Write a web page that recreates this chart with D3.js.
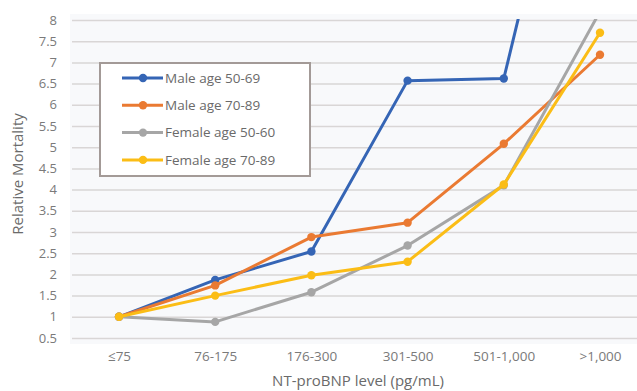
<!DOCTYPE html>
<html><head><meta charset="utf-8">
<script src="https://cdn.jsdelivr.net/npm/d3@7"></script>
<style>html,body{margin:0;padding:0;background:#fff;}svg{display:block;}</style>
</head><body>
<svg id="chart" width="637" height="391"></svg>
<script>
const categories = ["≤75", "76-175", "176-300", "301-500", "501-1,000", ">1,000"];
const seriesNames = ["Male age 50-69", "Male age 70-89", "Female age 50-60", "Female age 70-89"];
const male5069 = [1, 1.87, 2.54, 6.57, 6.62, 16];
const male7089 = [1, 1.74, 2.88, 3.22, 5.08, 7.18];
const female5069 = [1, 0.88, 1.58, 2.68, 4.1, 8.2];
const female7089 = [1, 1.5, 1.98, 2.3, 4.12, 7.7];
const yTicks = [0.5, 1, 1.5, 2, 2.5, 3, 3.5, 4, 4.5, 5, 5.5, 6, 6.5, 7, 7.5, 8];
const colors = ["#3565b5", "#ea7a32", "#a6a6a6", "#fbbd16"];

const series = [male5069, male7089, female5069, female7089];
const svg = d3.select("#chart");
const font = "'Open Sans', 'Liberation Sans', sans-serif";

const x = d3.scalePoint().domain(categories).range([119, 600]);
const y = d3.scaleLinear().domain([0.5, 8]).range([338, 20]);

// plot background
svg.append("rect").attr("x", 70).attr("y", 14).attr("width", 567).attr("height", 330).attr("fill", "#f8f9fb");

// y tick labels
const yAxis = d3.axisLeft(y).tickValues(yTicks).tickSize(0).tickPadding(0)
  .tickFormat(d => String(d));
const gy = svg.append("g").attr("transform", "translate(57,0)").call(yAxis);
gy.select(".domain").remove();
gy.selectAll("text").attr("font-family", font).attr("font-size", 13).attr("fill", "#7a7a7a").attr("text-anchor", "end").attr("x", 0);

// gridlines
const grid = d3.axisLeft(y).tickValues(yTicks).tickSize(-565).tickFormat("");
const gg = svg.append("g").attr("transform", "translate(72,0)").call(grid);
gg.select(".domain").remove();
gg.selectAll("line").attr("stroke", "#d9d6d6").attr("stroke-width", 1.5);

// x axis labels
const xAxis = d3.axisBottom(x).tickSize(0).tickPadding(0);
const gx = svg.append("g").attr("transform", "translate(0,349)").call(xAxis);
gx.select(".domain").remove();
gx.selectAll("text").attr("font-family", font).attr("font-size", 13.5).attr("fill", "#7a7a7a").attr("dy", "0.9em");

// axis titles
svg.append("text").attr("x", 358).attr("y", 386).attr("text-anchor", "middle")
  .attr("font-family", font).attr("font-size", 15).attr("fill", "#6a6a6a").text("NT-proBNP level (pg/mL)");
svg.append("text").attr("transform", "translate(23,174) rotate(-90)").attr("text-anchor", "middle")
  .attr("font-family", font).attr("font-size", 15).attr("fill", "#6a6a6a").text("Relative Mortality");

// clip
svg.append("clipPath").attr("id", "clip").append("rect").attr("x", 60).attr("y", 19).attr("width", 600).attr("height", 340);

const line = d3.line().x((d, i) => x(categories[i])).y(d => y(d));
const plot = svg.append("g").attr("clip-path", "url(#clip)");
series.forEach((s, k) => {
  plot.append("path").datum(s).attr("d", line).attr("fill", "none")
    .attr("stroke", colors[k]).attr("stroke-width", 3).attr("stroke-linejoin", "round");
  plot.selectAll(null).data(s).enter().append("circle")
    .attr("cx", (d, i) => x(categories[i])).attr("cy", d => y(d)).attr("r", 4.2)
    .attr("fill", colors[k]);
});

// legend
const lg = svg.append("g");
lg.append("rect").attr("x", 100).attr("y", 63).attr("width", 210).attr("height", 113)
  .attr("fill", "#ffffff").attr("stroke", "#a39a97").attr("stroke-width", 2);
seriesNames.forEach((n, k) => {
  const yy = 78 + k * 27.3;
  lg.append("line").attr("x1", 122).attr("x2", 163).attr("y1", yy).attr("y2", yy)
    .attr("stroke", colors[k]).attr("stroke-width", 3);
  lg.append("circle").attr("cx", 143).attr("cy", yy).attr("r", 4.2).attr("fill", colors[k]);
  lg.append("text").attr("x", 165).attr("y", yy).attr("dy", "0.35em")
    .attr("font-family", font).attr("font-size", 13.5).attr("fill", "#6a6a6a").text(n);
});
</script>
</body></html>
